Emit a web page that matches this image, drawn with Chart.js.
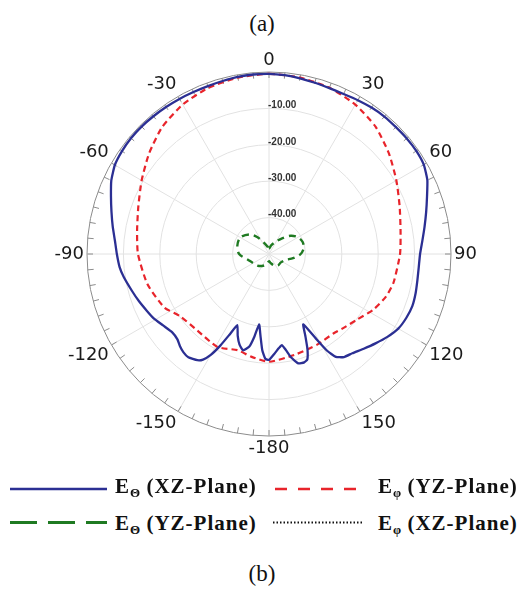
<!DOCTYPE html>
<html><head><meta charset="utf-8">
<script src="https://cdn.jsdelivr.net/npm/chart.js@4.4.1/dist/chart.umd.min.js"></script>
<style>
html,body{margin:0;padding:0;background:#fff;}
body{width:524px;height:591px;position:relative;overflow:hidden;}
#c{position:absolute;left:0;top:0;}
.cap{position:absolute;left:0;width:524px;text-align:center;font-family:"Liberation Serif","Times New Roman",serif;font-size:23px;line-height:1;color:#111;}
.leg{position:absolute;font-family:"Liberation Serif","Times New Roman",serif;font-weight:bold;font-size:21px;letter-spacing:1px;line-height:1;color:#111;white-space:nowrap;}
.leg sub{font-size:0.62em;vertical-align:-0.3em;line-height:0;letter-spacing:0;}
svg.s{position:absolute;overflow:visible;}
</style></head>
<body>
<div class="cap" style="top:12px">(a)</div>
<canvas id="c" width="524" height="480"></canvas>

<svg class="s" style="left:0;top:480px" width="524" height="60">
  <line x1="10" y1="9" x2="107" y2="9" stroke="#2b2f93" stroke-width="2.5"/>
  <line x1="275" y1="9" x2="362" y2="9" stroke="#e8242b" stroke-width="2.5" stroke-dasharray="12,11"/>
  <line x1="10" y1="42.5" x2="107" y2="42.5" stroke="#1f7a22" stroke-width="3" stroke-dasharray="27,11"/>
  <line x1="273" y1="42.5" x2="362" y2="42.5" stroke="#111" stroke-width="1.8" stroke-dasharray="1.5,2"/>
</svg>
<div class="leg" style="left:115px;top:476px">E<sub>Θ</sub> (XZ-Plane)</div>
<div class="leg" style="left:378px;top:476px">E<sub>φ</sub> (YZ-Plane)</div>
<div class="leg" style="left:115px;top:513px">E<sub>Θ</sub> (YZ-Plane)</div>
<div class="leg" style="left:378px;top:513px">E<sub>φ</sub> (XZ-Plane)</div>
<div class="cap" style="top:562px">(b)</div>

<script>
// ---- data ----
const angleLabelTexts = ['0','30','60','90','120','150','-180','-150','-120','-90','-60','-30'];
const radialTicks = [-50, -40, -30, -20, -10, 0];

// E_theta (XZ-plane), blue solid: angle (deg, clockwise from top) and gain (dB)
const blueAngles = [0,5,10,15,20,25,30,35,40,45,50,55,60,65,70,75,80,85,90,95,100,105,110,115,120,125,130,135,140,144,147,149,151,154,156,158,160,162,165,168,170,172,174,177,180,182,184,186,188,190,192,195,198,201,204,206,208,210,212,214,218,221,224,227,231,236,241,245,250,255,261,265,270,275,280,285,290,295,300,305,310,315,320,325,330,335,340,345,350,355];
const blueDb =     [-0.5,-0.7,-1.0,-1.3,-1.5,-1.5,-1.2,-0.9,-0.7,-0.7,-0.6,-0.6,-0.9,-2.0,-3.8,-5.3,-6.6,-7.7,-8.5,-8.7,-8.6,-8.3,-8.1,-8.4,-9.0,-10.3,-11.8,-13.2,-14.4,-15.0,-16.3,-19.0,-23.5,-28.5,-25.5,-21.8,-19.2,-18.7,-18.9,-21.0,-23.2,-24.7,-24.0,-22.5,-20.9,-21.2,-23.5,-27.5,-30.5,-27.0,-24.0,-22.6,-23.8,-26.0,-28.6,-25.5,-21.5,-18.0,-15.8,-14.8,-14.0,-14.2,-14.8,-15.6,-15.8,-14.9,-13.7,-13.0,-12.0,-11.0,-9.6,-8.8,-8.2,-7.5,-6.4,-5.2,-3.8,-2.2,-1.1,-0.7,-0.5,-0.5,-0.6,-0.7,-0.8,-0.9,-0.9,-0.8,-0.6,-0.5];

// E_phi (YZ-plane), red dashed
const redAngles = [0,10,20,30,40,50,60,70,80,90,103,110,118,127,135,141,152,166,180,190,198,209,223,235,243,256,270,280,290,300,310,320,330,340,350];
const redDb =     [-0.5,-0.8,-1.4,-2.6,-4.4,-7.0,-9.6,-11.8,-13.3,-14.0,-14.9,-15.8,-17.5,-19.9,-21.2,-21.9,-21.8,-21.4,-20.4,-21.4,-22.2,-20.8,-21.2,-20.2,-17.7,-15.6,-14.0,-13.2,-11.8,-9.6,-7.0,-4.4,-2.6,-1.4,-0.8];

// E_theta (YZ-plane), green long dashes
const greenAngles = [0,15,30,40,50,60,70,80,90,100,110,125,140,155,170,180,195,210,225,240,255,270,285,300,315,325,335,350];
const greenDb =     [-48.5,-47.5,-46,-44.4,-42.2,-40.8,-40.2,-40.3,-41.3,-43.3,-45.2,-46,-46,-46.5,-47.5,-48,-47,-46.2,-45.5,-45,-44,-41.8,-41,-40.9,-42.4,-44.3,-46.5,-48];

// E_phi (XZ-plane), black dotted: below the plotted range, no visible points
const blackAngles = [];
const blackDb = [];

// ---- build ----
const angles = Array.from({length:360}, (_, i) => i);
function series(angs, vals){
  const arr = angles.map(() => null);
  angs.forEach((a, k) => { arr[a] = vals[k]; });
  return arr;
}

const decor = {
  id: 'decor',
  beforeDatasetsDraw(chart){
    const s = chart.scales.r, ctx = chart.ctx, R = s.drawingArea;
    ctx.save();
    ctx.strokeStyle = '#8c8c8c'; ctx.lineWidth = 1;
    for (let i = 0; i < angles.length; i += 5){
      const a = s.getPointPosition(i, R), b = s.getPointPosition(i, R - 6);
      ctx.beginPath(); ctx.moveTo(a.x, a.y); ctx.lineTo(b.x, b.y); ctx.stroke();
    }
    ctx.restore();
  },
  afterDatasetsDraw(chart){
    const s = chart.scales.r, ctx = chart.ctx;
    ctx.save();
    ctx.font = 'bold 10px "Liberation Sans", Arial, sans-serif';
    ctx.fillStyle = '#333';
    ctx.textAlign = 'left'; ctx.textBaseline = 'middle';
    s.ticks.forEach(t => {
      if (t.value <= s.min || t.value >= s.max) return;
      const d = s.getDistanceFromCenterForValue(t.value);
      ctx.fillText(t.label, s.xCenter - 1, s.yCenter - d - 3);
    });
    ctx.restore();
  }
};

new Chart(document.getElementById('c'), {
  type: 'radar',
  data: {
    labels: angles,
    datasets: [
      {label: 'EΘ (XZ-Plane)', data: series(blueAngles, blueDb), borderColor: '#2b2f93', borderWidth: 2.3, spanGaps: true, tension: 0.15},
      {label: 'Eφ (YZ-Plane)', data: series(redAngles, redDb), borderColor: '#e8242b', borderWidth: 2.2, borderDash: [6, 4], spanGaps: true, tension: 0.2},
      {label: 'EΘ (YZ-Plane)', data: series(greenAngles, greenDb), borderColor: '#1f7a22', borderWidth: 2.4, borderDash: [7, 5], spanGaps: true, tension: 0.3},
      {label: 'Eφ (XZ-Plane)', data: series(blackAngles, blackDb), borderColor: '#111', borderWidth: 1.5, borderDash: [1.5, 2], spanGaps: true}
    ]
  },
  options: {
    responsive: false,
    animation: false,
    devicePixelRatio: 1,
    layout: {padding: {top: 51, bottom: 23, left: 14, right: 0}},
    elements: {point: {radius: 0, hoverRadius: 0}, line: {fill: false, borderJoinStyle: 'round'}},
    plugins: {legend: {display: false}, tooltip: {enabled: false}, title: {display: false}},
    scales: {
      r: {
        min: radialTicks[0], max: radialTicks[radialTicks.length - 1],
        startAngle: 0,
        ticks: {stepSize: 10, display: false, callback: v => v.toFixed(2)},
        grid: {circular: true, color: c => (c.tick && c.tick.value === 0) ? '#8c8c8c' : '#e2e2e2', lineWidth: 1},
        angleLines: {display: true, color: '#e2e2e2', lineWidth: c => (c.index % 30 === 0 ? 1 : 0)},
        pointLabels: {
          display: true, padding: 3, color: '#1a1a1a',
          font: {family: '"DejaVu Sans", sans-serif', size: 18, lineHeight: 1},
          callback: (v, i) => (i % 30 === 0 ? angleLabelTexts[i / 30] : '')
        }
      }
    }
  },
  plugins: [decor]
});
</script>
</body></html>
